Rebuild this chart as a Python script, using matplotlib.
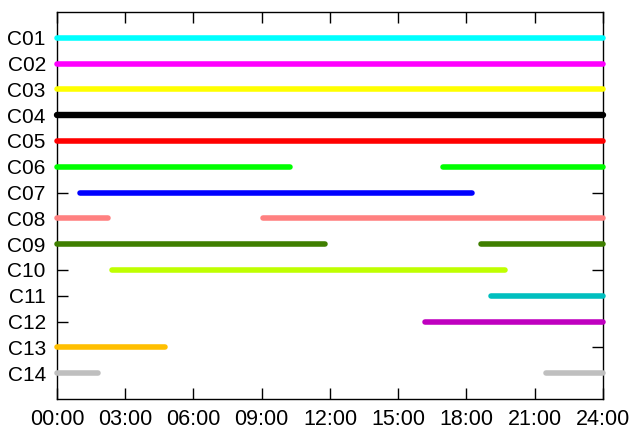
"""
Linha do tempo de 14 canais ao longo de um dia (00:00 a 24:00).
"""

import matplotlib.pyplot as plt

plt.rcParams["font.family"] = ["Liberation Sans", "DejaVu Sans"]

# canais, de cima para baixo
canais = ["C01", "C02", "C03", "C04", "C05", "C06", "C07",
          "C08", "C09", "C10", "C11", "C12", "C13", "C14"]

# intervalos ativos (início, fim) em horas
intervalos = [
    [(0.0, 24.0)],
    [(0.0, 24.0)],
    [(0.0, 24.0)],
    [(0.0, 24.0)],
    [(0.0, 24.0)],
    [(0.0, 10.25), (16.95, 24.0)],
    [(1.0, 18.25)],
    [(0.0, 2.25), (9.05, 24.0)],
    [(0.0, 11.8), (18.65, 24.0)],
    [(2.4, 19.7)],
    [(19.1, 24.0)],
    [(16.2, 24.0)],
    [(0.0, 4.75)],
    [(0.0, 1.8), (21.5, 24.0)],
]

cores = ["#00FFFF", "#FF00FF", "#FFFF00", "#000000", "#FF0000",
         "#00FF00", "#0000FF", "#FF8080", "#3F7F00", "#BFFF00",
         "#00BFBF", "#BF00BF", "#FFBF00", "#BFBFBF"]

larguras = [4.0, 4.0, 4.0, 4.6, 4.0, 4.0, 4.0,
            4.0, 4.0, 4.0, 4.0, 4.0, 4.0, 4.0]

horas = [0, 3, 6, 9, 12, 15, 18, 21, 24]
rotulos_horas = ["00:00", "03:00", "06:00", "09:00", "12:00",
                 "15:00", "18:00", "21:00", "24:00"]

fig = plt.figure(figsize=(6.33, 4.29), dpi=100)
ax = fig.add_axes([0.090, 0.070, 0.8625, 0.902])

n = len(canais)
for i, (nome, segs) in enumerate(zip(canais, intervalos)):
    y = n - i
    for ini, fim in segs:
        ax.plot([ini, fim], [y, y], color=cores[i], lw=larguras[i],
                solid_capstyle="round", clip_on=False, zorder=3)

ax.set_xlim(0, 24)
ax.set_ylim(0, n + 1)
ax.set_xticks(horas)
ax.set_xticklabels(rotulos_horas)
ax.set_yticks([n - i for i in range(n)])
ax.set_yticklabels(canais)

ax.tick_params(axis="both", direction="in", length=8, width=1,
               top=True, right=True, color="black")
ax.tick_params(axis="x", pad=7, labelsize=15.5)
ax.tick_params(axis="y", pad=8, labelsize=15)
for sp in ax.spines.values():
    sp.set_linewidth(1.0)

fig.savefig("out.png", dpi=100)
